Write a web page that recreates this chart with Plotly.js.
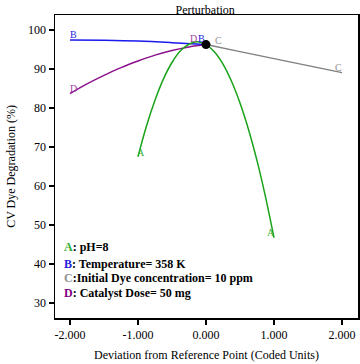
<!DOCTYPE html>
<html>
<head>
<meta charset="utf-8">
<script src="https://cdn.plot.ly/plotly-3.0.1.min.js"></script>
<style>html,body{margin:0;padding:0;background:#fff;}#chart{width:360px;height:364px;}</style>
</head>
<body>
<div id="chart"></div>
<script>
// Factor A: pH
var xA = [-1, -0.875, -0.75, -0.625, -0.5, -0.375, -0.25, -0.125, 0, 0.125, 0.25, 0.375, 0.5, 0.625, 0.75, 0.875, 1];
var yA = [67.5, 75.4, 82.0, 87.5, 91.7, 94.7, 96.4, 97.0, 96.3, 94.4, 91.3, 86.9, 81.3, 74.5, 66.5, 57.2, 46.7];
// Factor B: Temperature
var xB = [-2, -1.5, -1, -0.5, 0];
var yB = [97.5, 97.4, 97.2, 96.8, 96.3];
// Factor C: Initial dye concentration
var xC = [0, 0.5, 1, 1.5, 2];
var yC = [96.3, 94.5, 92.7, 90.9, 89.1];
// Factor D: Catalyst dose
var xD = [-2, -1.75, -1.5, -1.25, -1, -0.75, -0.5, -0.25, 0];
var yD = [83.7, 86.2, 88.4, 90.4, 92.1, 93.6, 94.8, 95.7, 96.3];
// Reference point
var refX = [0];
var refY = [96.3];

var legendLines = [
  {letter: "A", color: "#33b033", text: ": pH=8"},
  {letter: "B", color: "#2222dd", text: ": Temperature= 358 K"},
  {letter: "C", color: "#909090", text: ":Initial Dye concentration= 10 ppm"},
  {letter: "D", color: "#800080", text: ": Catalyst Dose= 50 mg"}
];
var legendY = [44.3, 40.0, 36.4, 32.4];

var font = "Liberation Serif, Times New Roman, serif";
var cA = "#1aa31a", cB = "#1a1aee", cC = "#808080", cD = "#8b108b";

function line(x, y, c) {
  return {x: x, y: y, mode: "lines", type: "scatter", line: {color: c, width: 1.5, shape: "spline", smoothing: 1}, hoverinfo: "skip"};
}
var data = [
  line(xD, yD, cD),
  line(xB, yB, cB),
  line(xC, yC, cC),
  line(xA, yA, cA),
  {x: refX, y: refY, mode: "markers", type: "scatter", marker: {color: "#000", size: 9}}
];

function lab(x, y, t, c) {
  return {x: x, y: y, xref: "x", yref: "y", text: t, showarrow: false, font: {family: font, size: 10, color: c}};
}
var ann = [
  lab(xA[0] + 0.05, yA[0] + 1.0, "A", "#33b033"),
  lab(xA[xA.length - 1] - 0.05, yA[yA.length - 1] + 1.3, "A", "#33b033"),
  lab(xB[0] + 0.05, yB[0] + 1.4, "B", "#2222dd"),
  lab(xB[xB.length - 1] - 0.06, yB[xB.length - 1] + 1.6, "B", "#2222dd"),
  lab(xC[0] + 0.18, yC[0] + 1.1, "C", "#909090"),
  lab(xC[xC.length - 1] - 0.05, yC[yC.length - 1] + 1.4, "C", "#909090"),
  lab(xD[0] + 0.05, yD[0] + 1.3, "D", "#a040a0"),
  lab(xD[xD.length - 1] - 0.19, yD[xD.length - 1] + 1.6, "D", "#a040a0")
];
legendLines.forEach(function (l, i) {
  ann.push({x: -2.11, y: legendY[i], xref: "x", yref: "y", xanchor: "left", yanchor: "middle", showarrow: false,
    text: "<b><span style='color:" + l.color + "'>" + l.letter + "</span>" + l.text + "</b>",
    font: {family: font, size: 12, color: "#000"}});
});

var layout = {
  width: 360, height: 364,
  margin: {l: 55, r: 2, t: 15, b: 46},
  paper_bgcolor: "#fff", plot_bgcolor: "#fff",
  showlegend: false,
  font: {family: font, size: 12, color: "#000"},
  title: {text: "Perturbation", x: 0.57, xanchor: "center", y: 0.985, yanchor: "top", font: {family: font, size: 12, color: "#000"}},
  xaxis: {
    range: [-2.22, 2.235], tickvals: [-2, -1, 0, 1, 2], ticktext: ["-2.000", "-1.000", "0.000", "1.000", "2.000"],
    ticks: "outside", ticklen: 5, tickwidth: 1.5, tickcolor: "#000",
    showline: true, linecolor: "#000", linewidth: 1.5, mirror: true,
    showgrid: false, zeroline: false,
    tickfont: {family: font, size: 12, color: "#000"},
    title: {text: "Deviation from Reference Point (Coded Units)", standoff: 9, font: {family: font, size: 12, color: "#000"}}
  },
  yaxis: {
    range: [26.1, 103.9], tickvals: [30, 40, 50, 60, 70, 80, 90, 100],
    ticks: "outside", ticklen: 5, tickwidth: 1.5, tickcolor: "#000",
    showline: true, linecolor: "#000", linewidth: 1.5, mirror: true,
    showgrid: false, zeroline: false,
    tickfont: {family: font, size: 12, color: "#000"},
    title: {text: "CV Dye Degradation (%)", standoff: 10, font: {family: font, size: 12, color: "#000"}}
  },
  annotations: ann
};
Plotly.newPlot("chart", data, layout, {displayModeBar: false, staticPlot: true});
</script>
</body>
</html>
